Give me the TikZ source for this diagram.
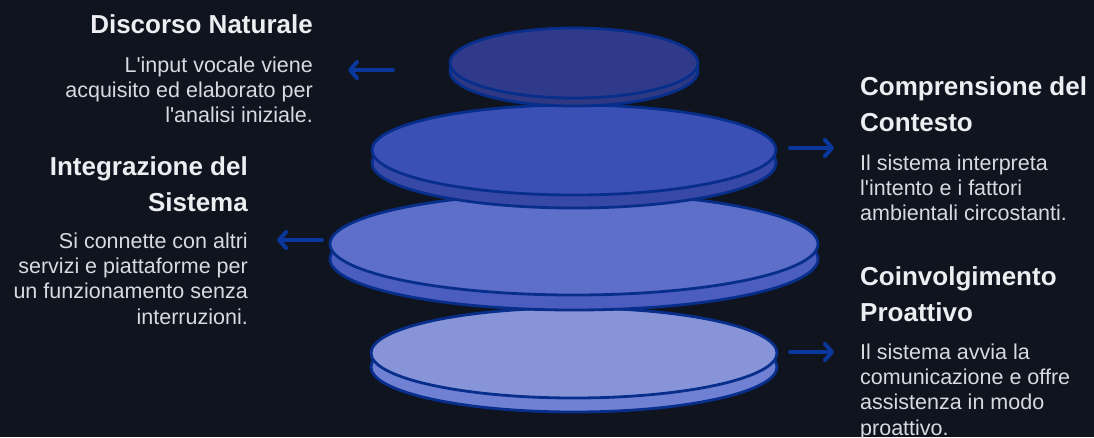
\documentclass[tikz,border=0pt]{standalone}
\usepackage{fontspec}
\setmainfont{Liberation Sans}[Ligatures=TeXOff]
\usetikzlibrary{positioning,arrows.meta}
\definecolor{nightBg}{HTML}{0F141E}
\definecolor{rimLine}{HTML}{082E8C}
\definecolor{arrowBlue}{HTML}{0A379C}
\definecolor{headWhite}{HTML}{EDEEF1}
\definecolor{bodyGray}{HTML}{D8DAE0}
\definecolor{diskOneTop}{HTML}{2F3A8A}
\definecolor{diskOneRim}{HTML}{2E3883}
\definecolor{diskTwoTop}{HTML}{3B50B4}
\definecolor{diskTwoRim}{HTML}{3848A6}
\definecolor{diskThreeTop}{HTML}{5D6FC8}
\definecolor{diskThreeRim}{HTML}{4C5DC0}
\definecolor{diskFourTop}{HTML}{8794D8}
\definecolor{diskFourRim}{HTML}{7080D2}
\tikzset{
    heading/.style={inner sep=0pt,text=headWhite,
        font=\fontsize{26}{36}\selectfont\bfseries},
    bodytext/.style={inner sep=0pt,text=bodyGray,
        font=\fontsize{21.5}{25.3}\selectfont},
    diskface/.style={draw=rimLine,line width=2.8pt},
    pointer/.style={-{Straight Barb[round,length=7pt,width=16pt]},
        draw=arrowBlue,line width=4pt,line cap=round}
}
\begin{document}
\begin{tikzpicture}[x=1pt,y=-1pt]
    \fill[nightBg] (0,0) rectangle (1094,437);
    \useasboundingbox (0,0) rectangle (1094,437);
    % disks, bottom one first
    \filldraw[diskface,fill=diskFourRim] (574,367) ellipse [x radius=203,y radius=45];
    \filldraw[diskface,fill=diskFourTop] (574,353) ellipse [x radius=203,y radius=45];
    \filldraw[diskface,fill=diskThreeRim] (574,259) ellipse [x radius=244,y radius=51];
    \filldraw[diskface,fill=diskThreeTop] (574,244) ellipse [x radius=244,y radius=51];
    \filldraw[diskface,fill=diskTwoRim] (574,163) ellipse [x radius=202,y radius=45];
    \filldraw[diskface,fill=diskTwoTop] (574,150) ellipse [x radius=202,y radius=45];
    \filldraw[diskface,fill=diskOneRim] (574,71) ellipse [x radius=124,y radius=35];
    \filldraw[diskface,fill=diskOneTop] (574,63) ellipse [x radius=124,y radius=35];
    % left side texts
    \node[heading,anchor=north east,align=right] (natHead) at (313,14.4) {Discorso Naturale};
    \node[bodytext,anchor=north east,align=right] (natBody) at (313,56.6)
        {L'input vocale viene\\acquisito ed elaborato per\\l'analisi iniziale.};
    \node[heading,anchor=north east,align=right] (intHead) at (248,156.4) {Integrazione del\\Sistema};
    \node[bodytext,anchor=north east,align=right] (intBody) at (248,232.6)
        {Si connette con altri\\servizi e piattaforme per\\un funzionamento senza\\interruzioni.};
    % right side texts
    \node[heading,anchor=north west,align=left] (ctxHead) at (860,76.4) {Comprensione del\\Contesto};
    \node[bodytext,anchor=north west,align=left] (ctxBody) at (860,154.6)
        {Il sistema interpreta\\l'intento e i fattori\\ambientali circostanti.};
    \node[heading,anchor=north west,align=left] (proHead) at (860,266.4) {Coinvolgimento\\Proattivo};
    \node[bodytext,anchor=north west,align=left] (proBody) at (860,343.6)
        {Il sistema avvia la\\comunicazione e offre\\assistenza in modo\\proattivo.};
    % arrows
    \coordinate (natFrom) at (393,70);
    \coordinate (natTo) at (348,70);
    \coordinate (intFrom) at (322,240);
    \coordinate (intTo) at (277,240);
    \coordinate (ctxFrom) at (790,148);
    \coordinate (ctxTo) at (834,148);
    \coordinate (proFrom) at (790,352);
    \coordinate (proTo) at (834,352);
    \draw[pointer] (natFrom) -- (natTo);
    \draw[pointer] (intFrom) -- (intTo);
    \draw[pointer] (ctxFrom) -- (ctxTo);
    \draw[pointer] (proFrom) -- (proTo);
\end{tikzpicture}
\end{document}
